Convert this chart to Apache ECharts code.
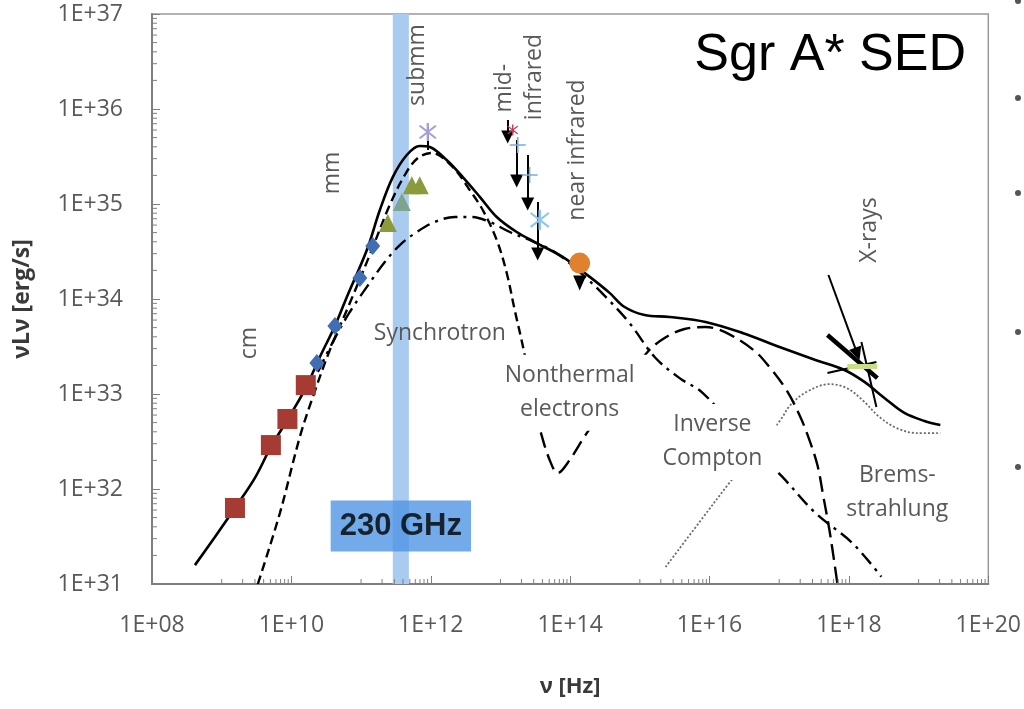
<!DOCTYPE html>
<html><head><meta charset="utf-8">
<script src="https://cdn.jsdelivr.net/npm/echarts@6/dist/echarts.min.js"></script>
<style>html,body{margin:0;padding:0;background:#fff}#c{width:1024px;height:709px}</style>
</head><body><div id="c"></div><script>
// ---- data (ν [Hz], νLν [erg/s]) ----
const xTickLabels = ['1E+08','1E+10','1E+12','1E+14','1E+16','1E+18','1E+20'];
const yTickLabels = ['1E+31','1E+32','1E+33','1E+34','1E+35','1E+36','1E+37'];

const totalModel = [[4.13e8,1.58e31],[8.0e8,3.13e31],[1.55e9,6.31e31],[3.0e9,1.31e32],[5.08e9,2.77e32],[8.91e9,5.46e32],[1.61e10,1.16e33],[2.56e10,2.45e33],[4.21e10,5.2e33],[6.25e10,1.05e34],[1.21e11,3.28e34],[1.86e11,8.65e34],[2.85e11,1.92e35],[4.53e11,3.28e35],[6.95e11,4.08e35],[9.68e11,3.98e35],[1.69e12,2.9e35],[2.88e12,1.92e35],[5.05e12,1.19e35],[8.83e12,7.3e34],[1.71e13,5.07e34],[3.31e13,3.88e34],[7.8e13,2.77e34],[1.91e14,1.71e34],[3.68e14,1.16e34],[6.04e14,8.24e33],[1.17e15,6.79e33],[2.67e15,6.47e33],[8.77e15,5.73e33],[2.97e16,4.39e33],[1.01e17,3.13e33],[3.31e17,2.28e33],[8.61e17,1.79e33],[1.67e18,1.34e33],[3.23e18,9.08e32],[6.25e18,6.31e32],[1.21e19,5.2e32],[2.05e19,4.72e32]];

const synchrotron = [[3.3e9,1.0e31],[6.84e9,5.58e31],[1.32e10,3.52e32],[2.03e10,9.29e32],[3.56e10,2.9e33],[6.9e10,9.08e33],[1.33e11,2.9e34],[2.58e11,9.75e34],[4.24e11,2.02e35],[6.52e11,3.05e35],[1.03e12,3.44e35],[2.07e12,2.45e35],[3.62e12,1.4e35],[5.57e12,8.65e34],[8.83e12,4.18e34],[1.23e13,1.88e34],[1.6e13,7.66e33],[2.08e13,3.28e33],[3.1e13,7.66e32]];

const inverseCompton = [[3.2e13,6.79e32],[3.78e13,3.98e32],[5.08e13,2.02e32],[6.62e13,1.47e32],[9.84e13,2.02e32],[1.73e14,3.88e32],[4.35e14,9.75e32],[1.29e15,2.77e33],[2.26e15,3.88e33],[4.38e15,4.83e33],[8.77e15,5.07e33],[1.64e16,4.5e33],[4.28e16,2.9e33],[7.24e16,1.92e33],[1.27e17,1.1e33],[1.95e17,6.01e32],[2.62e17,3.52e32],[3.53e17,1.79e32],[4.31e17,8.24e31],[5.25e17,3.7e31],[6.2e17,1.66e31],[6.84e17,1.0e31]];

const nonthermal = [[2.4e10,1.71e33],[4.21e10,3.88e33],[6.9e10,7.3e33],[1.21e11,1.34e34],[2.19e11,2.45e34],[3.6e11,3.7e34],[6.3e11,5.07e34],[1.14e12,6.47e34],[2.21e12,7.3e34],[3.87e12,7.3e34],[7.02e12,6.47e34],[1.36e13,5.07e34],[2.62e13,4.18e34],[6.0e13,3.13e34],[1.37e14,1.92e34],[3.13e14,1.08e34],[7.13e14,5.58e33],[1.63e15,2.45e33],[3.72e15,1.47e33],[7.94e15,1.03e33],[2.69e16,3.88e32],[1.11e17,1.34e32],[3.31e17,5.58e31],[1.12e18,2.7e31],[2.92e18,1.19e31]];

const bremsstrahlung = [[2.34e15,1.51e31],[7.2e15,4.5e31],[2.07e16,1.24e32],[5.21e16,2.84e32],[1.04e17,5.32e32],[1.45e17,7.66e32],[2.46e17,1.05e33],[5.25e17,1.27e33],[9.2e17,1.16e33],[1.56e18,8.65e32],[2.74e18,5.73e32],[4.8e18,4.39e32],[9.29e18,3.88e32],[2.05e19,3.88e32]];

const cmSquares = [[1.55e9,6.31e31],[5.08e9,2.9e32],[8.77e9,5.46e32],[1.61e10,1.24e33]];
const mmDiamonds = [[2.32e10,2.12e33],[4.21e10,5.2e33],[9.6e10,1.66e34],[1.47e11,3.61e34]];
const submmTriangles = [[2.42e11,6.31e34],[5.35e11,1.58e35],[6.95e11,1.58e35]];
const submmTriangles2 = [[3.84e11,1.05e35]];
const peakStar = [[9.06e11,5.73e35]];
const midIrRed = [[1.5e13,6.01e35]];
const midIrCross = [[1.77e13,4.18e35],[2.62e13,2.02e35]];
const midIrStar = [[3.66e13,6.79e34]];
const nirCircle = [[1.37e14,2.39e34]];
const nirLimit = [[1.37e14,1.47e34]];
const upperLimits = [
  [[1.27e13,7.66e35],[1.27e13,5.07e35]],
  [[1.71e13,4.72e35],[1.71e13,1.75e35]],
  [[2.46e13,3.28e35],[2.46e13,1.0e35]],
  [[3.42e13,1.05e35],[3.42e13,2.98e34]]
];
const peakBar = [[9.06e11,6.47e35],[9.06e11,3.7e35]];
const xrayArrow = [[5.08e17,1.79e34],[1.32e18,2.64e33]];
const xrayThick = [[4.92e17,4.18e33],[2.56e18,1.47e33]];
const xrayThin = [[[4.92e17,1.66e33],[2.48e18,2.17e33]],[[1.51e18,3.52e33],[2.48e18,7.3e32]]];
const xrayFlux = [[9.5e17,1.97e33],[2.56e18,1.97e33]];

const band230 = [2.85e11, 4.85e11];
const bandLabel = {text:'230 GHz', x:3.72e11, y:4.07e31};

const annoText   = ['cm','mm','submm','mid-','infrared','near infrared','X-rays','Synchrotron','Nonthermal\nelectrons','Inverse\nCompton','Brems-\nstrahlung'];
const annoX      = [2.54e9,3.94e10,6.52e11,1.15e13,3.1e13,1.28e14,1.97e18,1.35e12,9.84e13,1.1e16,4.95e18];
const annoY      = [3.44e33,2.12e35,2.9e36,1.66e36,2.17e36,3.7e35,5.32e34,4.39e33,1.03e33,3.13e32,9.3e31];
const annoRotate = [90,90,90,90,90,90,90,0,0,0,0];
const annoMasked = [0,0,0,0,0,0,0,0,1,1,0];

const xMinorDecades = [1e9,1e11,1e13,1e15,1e17,1e19];
const yMinorDecades = [1e31,1e32,1e33,1e34,1e35,1e36];
const multipliers = [1,2,3,4,5,6,7,8,9];

// ---- build ----
const expOf = v => Math.round(Math.log10(v));
const xMinor = [];
xMinorDecades.forEach(d => multipliers.forEach(m => xMinor.push([m*d, 1e31])));
const yMinor = [];
yMinorDecades.forEach(d => multipliers.slice(1).forEach(m => yMinor.push([1e8, m*d])));

const PLUS = 'path://M9,0h2v20h-2z M0,9h20v2h-20z';
const STAR = 'path://M9,0h2v20h-2z M2.2,3.6L3.6,2.2L17.8,16.4L16.4,17.8z M16.4,2.2L17.8,3.6L3.6,17.8L2.2,16.4z';

function tickSeries(data, dir){
  return {type:'custom', silent:true, clip:false, z:4, data:data,
    renderItem:function(params, api){
      const p = api.coord([api.value(0), api.value(1)]);
      const shape = dir==='x' ? {x1:p[0],y1:p[1],x2:p[0],y2:p[1]-5} : {x1:p[0],y1:p[1],x2:p[0]+5,y2:p[1]};
      return {type:'line', shape:shape, style:{stroke:'#7f7f7f', lineWidth:1}};
    }};
}
function curve(data, type, width, color){
  return {type:'line', data:data, showSymbol:false, smooth:0.35, silent:true, z:3,
    lineStyle:{color:color||'#000', width:width, type:type}};
}
function dots(data, symbol, size, color, extra){
  return Object.assign({type:'scatter', data:data, symbol:symbol, symbolSize:size, silent:true, z:6,
    itemStyle:{color:color, opacity:1}}, extra||{});
}
function segs(list, width, color, symbol, z){
  return {type:'lines', coordinateSystem:'cartesian2d', silent:true, z:z||5,
    symbol:symbol||['none','none'], symbolSize:13,
    lineStyle:{color:color, width:width, opacity:1, curveness:0},
    data:list.map(c => ({coords:c}))};
}

const txtFont = 'Open Sans';
const annoData = annoText.map((t,i) => [annoX[i], annoY[i], i]);

const option = {
  animation:false,
  backgroundColor:'#ffffff',
  title:{text:'Sgr A* SED', right:53, top:25,
    textStyle:{fontSize:52, fontWeight:'normal', color:'#000', fontFamily:'Liberation Sans'}},
  grid:{left:152, right:35, top:14, bottom:125, show:true, borderColor:'#9a9a9a', borderWidth:1.5},
  xAxis:{type:'log', logBase:100, min:1e8, max:1e20,
    splitLine:{show:false},
    axisLine:{lineStyle:{color:'#7f7f7f', width:2}},
    axisTick:{inside:true, length:8, lineStyle:{color:'#7f7f7f'}},
    axisLabel:{formatter:v => xTickLabels[(expOf(v)-8)/2], color:'#595959', fontSize:23, fontFamily:txtFont, margin:30, showMinLabel:true, showMaxLabel:true},
    name:'ν [Hz]', nameLocation:'middle', nameGap:92,
    nameTextStyle:{fontWeight:'bold', fontSize:22, color:'#3a3a3a', fontFamily:txtFont}},
  yAxis:{type:'log', min:1e31, max:1e37,
    splitLine:{show:false},
    axisLine:{lineStyle:{color:'#7f7f7f', width:2}},
    axisTick:{inside:true, length:8, lineStyle:{color:'#7f7f7f'}},
    axisLabel:{formatter:v => yTickLabels[expOf(v)-31], color:'#595959', fontSize:23, fontFamily:txtFont, margin:29},
    name:'νLν [erg/s]', nameLocation:'middle', nameGap:118,
    nameTextStyle:{fontWeight:'bold', fontSize:23, color:'#3a3a3a', fontFamily:txtFont}},
  graphic:[1,98,193,332,467].map(cy => ({type:'circle', shape:{cx:1018, cy:cy, r:3}, style:{fill:'#555'}})),
  series:[
    {type:'line', data:[[1e8,1e31]], showSymbol:false, silent:true, z:1, lineStyle:{width:0},
     markArea:{silent:true, itemStyle:{color:'#a9cbef', opacity:1}, data:[[{xAxis:band230[0]},{xAxis:band230[1]}]]}},
    tickSeries(xMinor,'x'),
    tickSeries(yMinor,'y'),
    curve(bremsstrahlung, [2,2], 1.8, '#6a6a6a'),
    curve(nonthermal, [14,6,3,6], 2.4),
    curve(inverseCompton, [16,7], 2.4),
    curve(synchrotron, [9,5], 2.4),
    curve(totalModel, 'solid', 2.6),
    segs(upperLimits, 2, '#000', ['none','triangle']),
    segs([peakBar], 2, '#000'),
    segs([xrayArrow], 2, '#000', ['none','triangle']),
    segs([xrayThick], 4.5, '#000'),
    segs(xrayThin, 2, '#000'),
    segs([xrayFlux], 5, '#c9df86', null, 6),
    dots(cmSquares, 'rect', 20, '#a63b33'),
    dots(mmDiamonds, 'diamond', [15,18], '#3f6eb5'),
    dots(submmTriangles, 'triangle', 18, '#8b9a3b'),
    dots(submmTriangles2, 'triangle', 18, '#7fa38e'),
    dots(peakStar, STAR, 18, '#a39fd8'),
    dots(midIrRed, STAR, 11, '#c23b5a'),
    dots(midIrCross, PLUS, 16, '#7aaed6'),
    dots(midIrStar, STAR, 20, '#92c6e8'),
    dots(nirCircle, 'circle', 21, '#e0812f'),
    dots(nirLimit, 'triangle', [13,15], '#000', {symbolRotate:180}),
    {type:'custom', silent:true, clip:false, z:20, data:annoData,
     renderItem:function(params, api){
       const i = api.value(2);
       const p = api.coord([api.value(0), api.value(1)]);
       const style = {text:annoText[i], fill:'#595959', fontSize:23, fontFamily:txtFont, lineHeight:34,
                      align:'center', verticalAlign:'middle'};
       if (annoMasked[i]) { style.backgroundColor = '#ffffff'; style.padding = [4,14,4,14]; }
       return {type:'text', x:p[0], y:p[1], rotation:annoRotate[i]*Math.PI/180, z2:100, style:style};
     }},
    {type:'scatter', silent:true, z:21, symbolSize:1, itemStyle:{color:'rgba(0,0,0,0)'},
     label:{show:true, position:'inside', formatter:bandLabel.text, color:'#000', fontSize:31, fontWeight:'bold', fontFamily:'Liberation Sans',
       backgroundColor:'#4f95e5', padding:[10,9,10,9], align:'center', verticalAlign:'middle'},
     data:[[bandLabel.x, bandLabel.y]]}
  ]
};
const chart = echarts.init(document.getElementById('c'));
chart.setOption(option);
</script></body></html>
